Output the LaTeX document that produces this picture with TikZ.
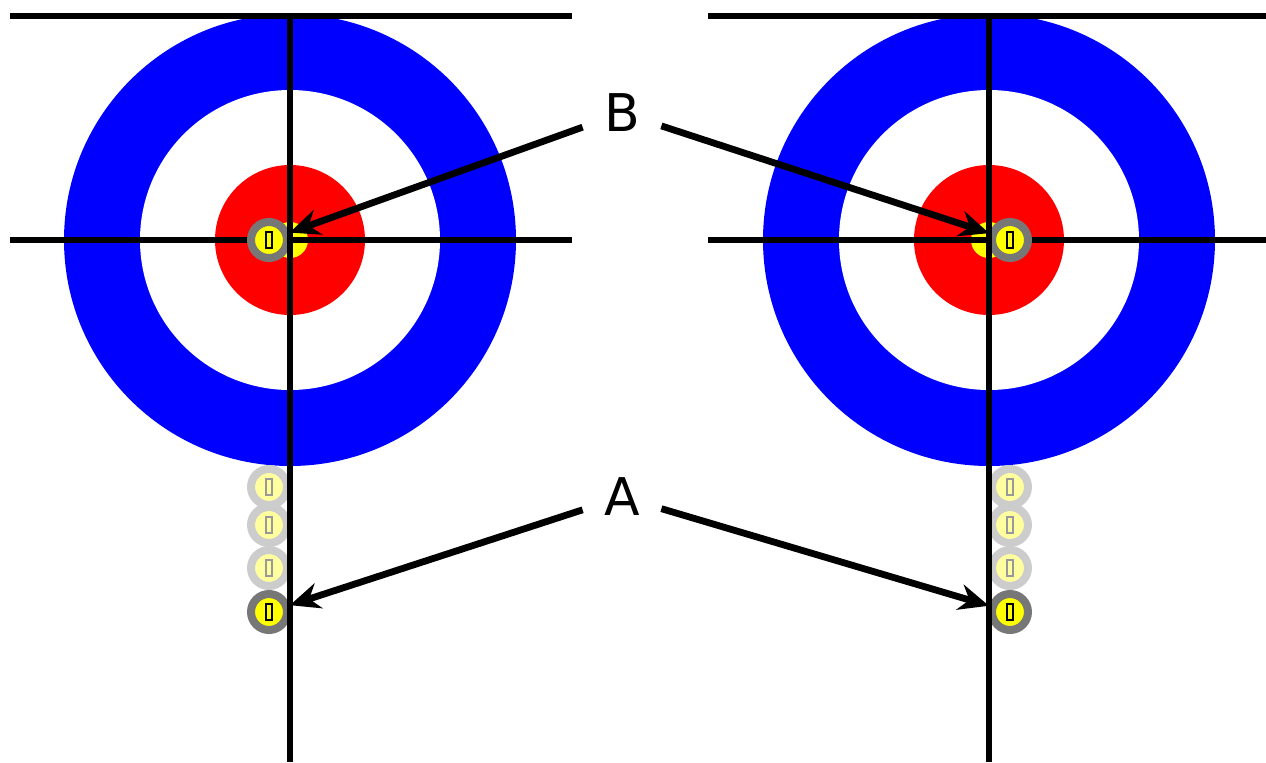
\documentclass[tikz,border=0pt]{standalone}
\usepackage{fontspec}
\setmainfont{DejaVu Sans}
\usetikzlibrary{arrows.meta}
\definecolor{houseblue}{HTML}{0000FF}
\definecolor{housered}{HTML}{FF0000}
\definecolor{stoneyel}{HTML}{FFFF00}
\definecolor{stonegray}{HTML}{777777}
\definecolor{ghostgray}{HTML}{CCCCCC}
\definecolor{ghostyel}{HTML}{FFFFA0}
\tikzset{
  >={Stealth[length=15pt,width=13pt]},
  sheetline/.style={draw=black,line width=2.7pt},
  stone/.style={circle,draw=stonegray,line width=4pt,fill=stoneyel,minimum size=18pt,inner sep=0pt},
  ghost/.style={stone,draw=ghostgray,fill=ghostyel},
  handle/.style={rectangle,draw=black,line width=0.6pt,fill=stoneyel,minimum width=3pt,minimum height=8pt,inner sep=0pt},
  ghandle/.style={handle,draw=ghostgray!75!black,fill=ghostyel},
  lab/.style={font=\fontsize{26}{30}\selectfont,minimum width=39pt,minimum height=30pt,inner sep=0pt},
  arr/.style={->,draw=black,line width=3.4pt},
}
\begin{document}
\begin{tikzpicture}[x=0.5pt,y=-0.5pt]
\useasboundingbox (0,0) rectangle (1266,762);
% houses
\foreach \hx/\hn in {290/L,989/R}{
  \fill[houseblue] (\hx,240) circle[radius=113pt];
  \fill[white] (\hx,240) circle[radius=75pt];
  \fill[housered] (\hx,240) circle[radius=37.5pt];
  \fill[stoneyel] (\hx,240) circle[radius=9pt];
}
% tee and back lines
\draw[sheetline] (10,16) -- (572,16);
\draw[sheetline] (10,240) -- (572,240);
\draw[sheetline] (708,16) -- (1266,16);
\draw[sheetline] (708,240) -- (1266,240);
% earlier positions of the stone
\foreach \gy [count=\i] in {487,525,568}{
  \node[ghost] (gL\i) at (269,\gy) {};
  \node[ghandle] (ghL\i) at (gL\i) {};
  \node[ghost] (gR\i) at (1010,\gy) {};
  \node[ghandle] (ghR\i) at (gR\i) {};
}
% stones
\node[stone] (stAL) at (269,612) {};
\node[handle] (hAL) at (stAL) {};
\node[stone] (stAR) at (1010,612) {};
\node[handle] (hAR) at (stAR) {};
\node[stone] (stBL) at (269,240) {};
\node[handle] (hBL) at (stBL) {};
\node[stone] (stBR) at (1010,240) {};
\node[handle] (hBR) at (stBR) {};
% centre lines
\draw[sheetline] (290,16) -- (290,762);
\draw[sheetline] (989,16) -- (989,762);
% labels
\node[lab] (labB) at (622,113) {B};
\node[lab] (labA) at (622,497) {A};
\draw[arr] (labB) -- (stBL);
\draw[arr] (labB) -- (stBR);
\draw[arr] (labA) -- (stAL);
\draw[arr] (labA) -- (stAR);
\end{tikzpicture}
\end{document}
